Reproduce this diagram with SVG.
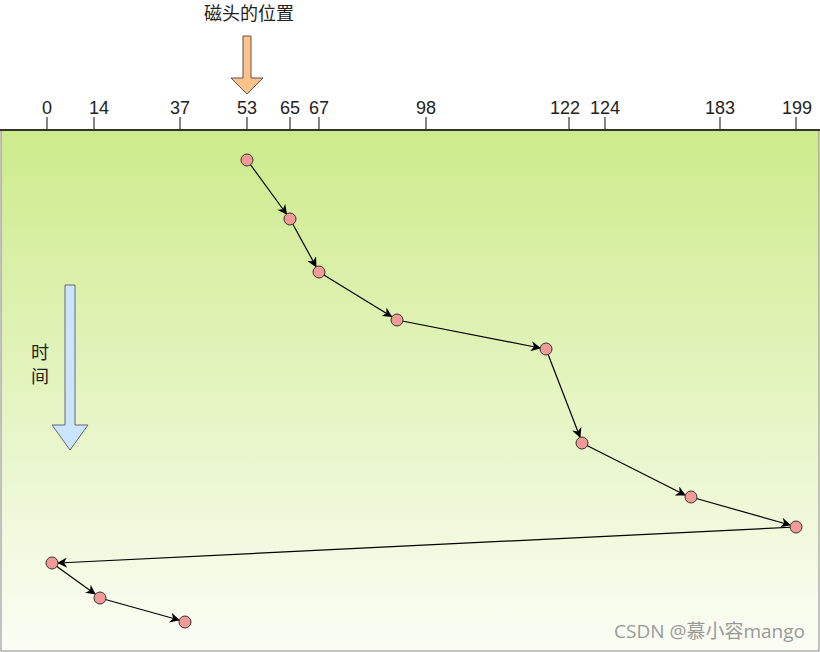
<svg xmlns="http://www.w3.org/2000/svg" width="820" height="652" viewBox="0 0 820 652">
<defs>
<linearGradient id="bg" x1="0" y1="0" x2="0" y2="1">
<stop offset="0" stop-color="#cdeb8b"/>
<stop offset="1" stop-color="#fbfdf5"/>
</linearGradient>
<marker id="ah" viewBox="0 0 10 10" refX="9" refY="5" markerWidth="10" markerHeight="10" markerUnits="userSpaceOnUse" orient="auto">
<path d="M0,0 L10,5 L0,10 L3,5 Z" fill="#000"/>
</marker>
<style>
.t{font-family:"Liberation Sans",Arial,sans-serif;font-size:18px;fill:#222;text-anchor:middle}
.cjk{font-family:"Noto Sans CJK SC","Liberation Sans",sans-serif;font-size:18px;fill:#222}
.tick{stroke:#333;stroke-width:1.2}
.n{fill:#f19a98;stroke:#333;stroke-width:1}
.e{stroke:#000;stroke-width:1.2;fill:none;marker-end:url(#ah)}
</style>
</defs>
<rect x="1" y="130" width="818" height="521" fill="url(#bg)" stroke="#888" stroke-width="1"/>
<line x1="0" y1="130" x2="820" y2="130" stroke="#333" stroke-width="2"/>
<g id="axis">
<g class="tick">
<line x1="47" y1="117" x2="47" y2="130"/>
<line x1="94" y1="117" x2="94" y2="130"/>
<line x1="180" y1="117" x2="180" y2="130"/>
<line x1="247" y1="117" x2="247" y2="130"/>
<line x1="290" y1="117" x2="290" y2="130"/>
<line x1="319" y1="117" x2="319" y2="130"/>
<line x1="426" y1="117" x2="426" y2="130"/>
<line x1="569" y1="117" x2="569" y2="130"/>
<line x1="605" y1="117" x2="605" y2="130"/>
<line x1="720" y1="117" x2="720" y2="130"/>
<line x1="796" y1="117" x2="796" y2="130"/>
</g>
<text class="t" x="47" y="114">0</text>
<text class="t" x="99" y="114">14</text>
<text class="t" x="180" y="114">37</text>
<text class="t" x="247" y="114">53</text>
<text class="t" x="290" y="114">65</text>
<text class="t" x="319" y="114">67</text>
<text class="t" x="426" y="114">98</text>
<text class="t" x="565" y="114">122</text>
<text class="t" x="605" y="114">124</text>
<text class="t" x="720" y="114">183</text>
<text class="t" x="797" y="114">199</text>
</g>
<g id="head-label">
<text class="cjk" x="249" y="20" text-anchor="middle">磁头的位置</text>
<path d="M243,36 H251 V78 H263 L247,94 L231,78 H243 Z" fill="#ffc38a" stroke="#555" stroke-width="1"/>
</g>
<g id="time">
<path d="M65,285 H75 V425 H88 L70,450 L52,425 H65 Z" fill="#cce5ff" stroke="#667" stroke-width="1"/>
<text class="cjk" x="40" y="359" text-anchor="middle">时</text>
<text class="cjk" x="40" y="383" text-anchor="middle">间</text>
</g>
<g id="edges">
<line class="e" x1="247" y1="160" x2="286.5" y2="214"/>
<line class="e" x1="290" y1="219" x2="316" y2="266.5"/>
<line class="e" x1="319" y1="272" x2="391.5" y2="316.5"/>
<line class="e" x1="397" y1="320" x2="540" y2="348"/>
<line class="e" x1="546" y1="349" x2="580" y2="437"/>
<line class="e" x1="582" y1="443" x2="685" y2="495"/>
<line class="e" x1="691" y1="497" x2="790" y2="525"/>
<line class="e" x1="796" y1="527" x2="58" y2="563"/>
<line class="e" x1="52" y1="563" x2="95" y2="594"/>
<line class="e" x1="100" y1="598" x2="179" y2="620"/>
</g>
<g id="nodes">
<circle id="n53" class="n" cx="247" cy="160" r="6"/>
<circle id="n65" class="n" cx="290" cy="219" r="6"/>
<circle id="n67" class="n" cx="319" cy="272" r="6"/>
<circle id="n98" class="n" cx="397" cy="320" r="6"/>
<circle id="n122" class="n" cx="546" cy="349" r="6"/>
<circle id="n124" class="n" cx="582" cy="443" r="6"/>
<circle id="n183" class="n" cx="691" cy="497" r="6"/>
<circle id="n199" class="n" cx="796" cy="527" r="6"/>
<circle id="n0" class="n" cx="52" cy="563" r="6"/>
<circle id="n14" class="n" cx="100" cy="598" r="6"/>
<circle id="n37" class="n" cx="185" cy="622" r="6"/>
</g>
<text x="805" y="638" font-family="'Open Sans','Noto Sans CJK SC',sans-serif" font-size="19" fill="#999" text-anchor="end">CSDN @慕小容mango</text>
</svg>
